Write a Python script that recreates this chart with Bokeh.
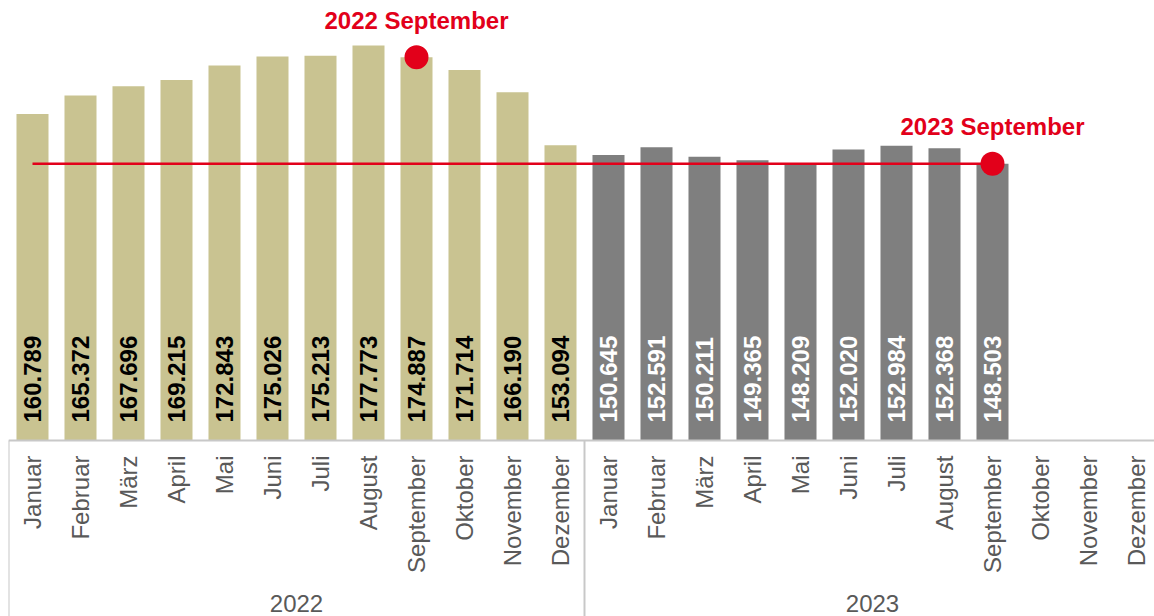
import math
from bokeh.plotting import figure
from bokeh.models import Range1d, ColumnDataSource
from bokeh.core.properties import value
from bokeh.embed import file_html
from bokeh.resources import INLINE

# ---- data ----
months = ["Januar", "Februar", "März", "April", "Mai", "Juni", "Juli",
          "August", "September", "Oktober", "November", "Dezember"]
years = ["2022", "2023"]
values_2022 = [160.789, 165.372, 167.696, 169.215, 172.843, 175.026,
               175.213, 177.773, 174.887, 171.714, 166.190, 153.094]
values_2023 = [150.645, 152.591, 150.211, 149.365, 148.209, 152.020,
               152.984, 152.368, 148.503]
highlight_month = "September"
y_base = 80

# ---- styles ----
C_2022 = "#c9c391"
C_2023 = "#7f7f7f"
RED = "#e2001a"
GRID = "#c8c8c8"
TXT = "#595959"
PX_PER_UNIT = 4.04

FW, FH = 1146, 608          # frame size
W, H = FW + 8, FH + 8       # figure size with 8px border left/top
y_top = y_base + 432 / PX_PER_UNIT
y_bot = y_base - 176 / PX_PER_UNIT
n_slots = len(years) * len(months)

p = figure(width=W, height=H, output_backend="svg", toolbar_location=None,
           x_range=Range1d(-0.5, -0.5 + FW / 48.0),
           y_range=Range1d(y_bot, y_top),
           min_border=0, min_border_left=8, min_border_top=8)
p.axis.visible = False
p.grid.visible = False
p.outline_line_color = None
p.background_fill_color = "white"
p.border_fill_color = "white"

def slot(yi, mi):
    return yi * len(months) + mi

series = [(values_2022, C_2022, "black"), (values_2023, C_2023, "white")]
for yi, (vals, col, tcol) in enumerate(series):
    xs = [slot(yi, mi) for mi in range(len(vals))]
    src = ColumnDataSource(dict(x=xs, top=vals,
                                lab=[f"{v:.3f}" for v in vals]))
    p.vbar(x="x", top="top", bottom=y_base, width=0.667, source=src,
           fill_color=col, line_color=None)
    p.text(x="x", y=y_base, text="lab", source=src, angle=math.pi / 2,
           text_align="left", text_baseline="middle", y_offset=-18,
           text_font=value("Liberation Sans"), text_font_style="bold",
           text_font_size="24px", text_color=tcol)

# axis line and group separators
p.segment(x0=[-0.5], y0=[y_base], x1=[n_slots - 0.5], y1=[y_base],
          line_color=GRID, line_width=2)
sep_x = [slot(yi, 0) - 0.5 for yi in range(len(years))]
p.segment(x0=sep_x, y0=[y_base] * len(sep_x), x1=sep_x,
          y1=[y_bot] * len(sep_x), line_color=GRID, line_width=2)

# month labels
mx = [slot(yi, mi) for yi in range(len(years)) for mi in range(len(months))]
ml = [m for _ in years for m in months]
p.text(x=mx, y=[y_base] * len(mx), text=ml, angle=math.pi / 2,
       text_align="right", text_baseline="middle", y_offset=15,
       text_font=value("Liberation Sans"), text_font_size="24px",
       text_color=TXT)

# year labels
yx = [slot(yi, 0) + (len(months) - 1) / 2 for yi in range(len(years))]
p.text(x=yx, y=[y_base] * len(yx), text=years, text_align="center",
       text_baseline="middle", y_offset=163,
       text_font=value("Liberation Sans"), text_font_size="24px",
       text_color=TXT)

# highlight line and dots
hi = months.index(highlight_month)
hx = [slot(0, hi), slot(1, hi)]
hy = [values_2022[hi], values_2023[hi]]
p.line(x=[slot(0, 0), hx[1]], y=[hy[1], hy[1]], line_color=RED,
       line_width=2.5)
p.scatter(x=hx, y=hy, size=24, fill_color=RED, line_color=None)
p.text(x=hx, y=hy, text=[f"{years[i]} {highlight_month}" for i in range(2)],
       text_align="center", text_baseline="middle", y_offset=-37,
       text_font=value("Liberation Sans"), text_font_style="bold",
       text_font_size="24px", text_color=RED)

open("out.html", "w").write(file_html(p, INLINE))
